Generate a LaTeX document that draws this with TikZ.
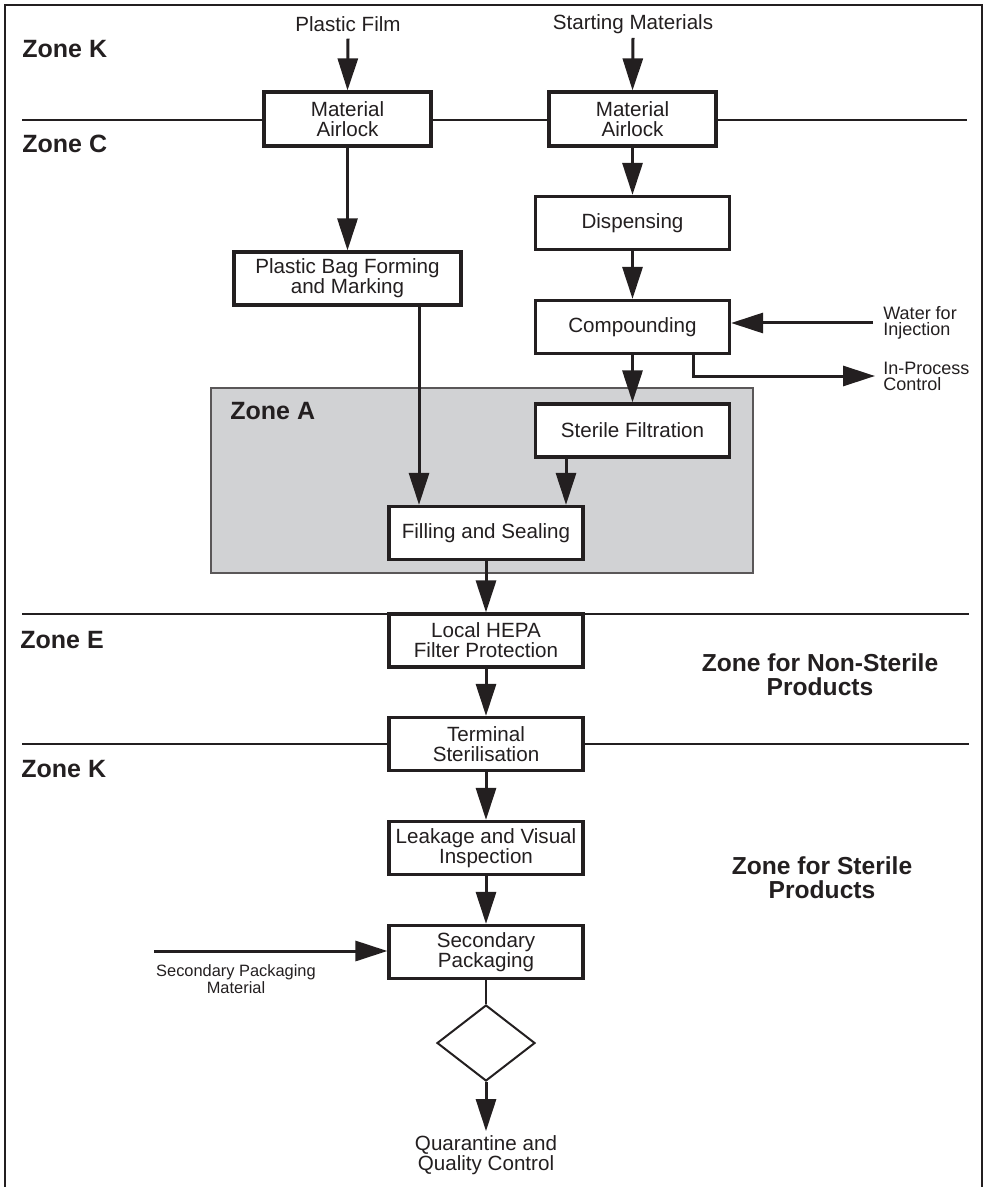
\documentclass[tikz,border=0pt]{standalone}
\usepackage{fontspec}
\setmainfont{Liberation Sans}
\usetikzlibrary{arrows.meta,shapes.geometric,calc}
\definecolor{ink}{HTML}{231F20}
\definecolor{zonea}{HTML}{D1D2D4}
\begin{document}
\begin{tikzpicture}[x=0.5pt,y=-0.5pt,
  every node/.style={text=ink},
  box/.style={draw=ink,line width=1.6pt,fill=white,inner sep=0pt,align=center,
    minimum width=97pt,minimum height=26.5pt,font=\fontsize{10.3}{9.9}\selectfont},
  arr/.style={draw=ink,line width=1.5pt,-{Triangle[length=16pt,width=10pt]}},
  plain/.style={draw=ink,line width=1pt},
  zoneline/.style={draw=ink,line width=0.8pt},
  zonelbl/.style={font=\bfseries\fontsize{12.5}{12}\selectfont,anchor=base west,inner sep=0pt},
  biglbl/.style={font=\bfseries\fontsize{12.3}{12}\selectfont,align=center},
  lbl/.style={font=\fontsize{10.3}{9.9}\selectfont,align=center},
  sidelbl/.style={font=\fontsize{9}{8}\selectfont,align=left,anchor=west,inner sep=0pt},
  smalllbl/.style={font=\fontsize{8.2}{7.6}\selectfont,align=center}
]
\useasboundingbox (0,0) rectangle (986,1187);
% outer frame (open at bottom)
\draw[draw=ink,line width=1.3pt] (5,1190) -- (5,5) -- (982,5) -- (982,1190);
% zone A area
\filldraw[fill=zonea,draw=ink!75,line width=0.6pt] (211,388) rectangle (753,573);
% zone lines
\draw[zoneline] (22,120) -- (967,120);
\draw[zoneline] (22,614) -- (969,614);
\draw[zoneline] (22,744) -- (969,744);
% zone labels
\node[zonelbl] (zk1) at (22,58) {Zone K};
\node[zonelbl] (zc) at (22,153) {Zone C};
\node[zonelbl] (za) at (230,419) {Zone A};
\node[zonelbl] (ze) at (20,648) {Zone E};
\node[zonelbl] (zk2) at (21,777) {Zone K};
\node[biglbl] (zns) at (820,675) {Zone for Non-Sterile\\Products};
\node[biglbl] (zs) at (822,878) {Zone for Sterile\\Products};
% inputs
\node[lbl] (pf) at (348,24) {Plastic Film};
\node[lbl,anchor=base] (sm) at (633,29.5) {Starting Materials};
% boxes
\node[box,minimum width=83.5pt,minimum height=27pt] (ma1) at (347.5,119) {Material\\Airlock};
\node[box,minimum width=83.5pt,minimum height=27pt] (ma2) at (632.5,119) {Material\\Airlock};
\node[box,minimum width=113.5pt] (pbf) at (347.5,278.5) {Plastic Bag Forming\\and Marking};
\node[box] (disp) at (632.5,223) {Dispensing};
\node[box] (comp) at (632.5,327) {Compounding};
\node[box] (sf) at (632.5,430.5) {Sterile Filtration};
\node[box] (fill) at (486,533) {Filling and Sealing};
\node[box] (hepa) at (486,640.5) {Local HEPA\\Filter Protection};
\node[box] (term) at (486,744) {Terminal\\Sterilisation};
\node[box] (leak) at (486,848) {Leakage and Visual\\Inspection};
\node[box] (sp) at (486,952) {Secondary\\Packaging};
\node[diamond,draw=ink,line width=1pt,fill=white,minimum width=49pt,minimum height=38pt,inner sep=0pt] (dec) at (486,1043) {};
\node[lbl,inner sep=2pt] (qc) at (486,1155) {Quarantine and\\Quality Control};
% side labels
\node[sidelbl] (wfi) at (883,323) {Water for\\Injection};
\node[sidelbl] (ipc) at (883,376) {In-Process\\Control};
\node[smalllbl] (spm) at (236,979) {Secondary Packaging\\Material};
\coordinate (spmstart) at (154,951);
% connectors
\draw[arr] (pf.south) -- (ma1.north);
\draw[arr] (sm.south) ++(0,-3) -- (ma2.north);
\draw[arr] (ma1.south) -- (pbf.north);
\draw[arr] (ma2.south) -- (disp.north);
\draw[arr] (disp.south) -- (comp.north);
\draw[arr] (comp.south) -- (sf.north);
\draw[arr] ([xshift=35.75pt]pbf.south) -- ([xshift=35.75pt]pbf.south |- fill.north);
\draw[arr] ([xshift=-33.25pt]sf.south) -- ([xshift=-33.25pt]sf.south |- fill.north);
\draw[arr] (fill.south) -- (hepa.north);
\draw[arr] (hepa.south) -- (term.north);
\draw[arr] (term.south) -- (leak.north);
\draw[arr] (leak.south) -- (sp.north);
\draw[plain] (sp.south) -- (dec.north);
\draw[arr] (dec.south) -- (qc.north);
\draw[arr] ([xshift=-5pt]wfi.west) -- (wfi.west -| comp.east);
\draw[arr] ([xshift=30.25pt]comp.south) |- ([xshift=-4pt]ipc.west);
\draw[arr] (spmstart) -- (spmstart -| sp.west);
\end{tikzpicture}
\end{document}
